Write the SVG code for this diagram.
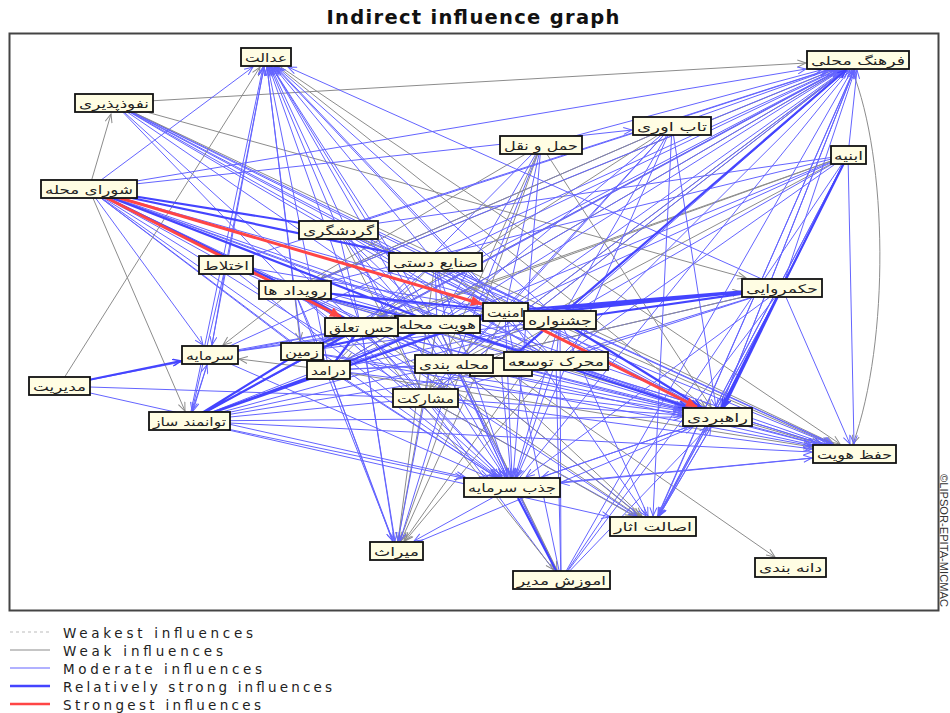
<svg xmlns="http://www.w3.org/2000/svg" width="950" height="713" viewBox="0 0 950 713">
<style>
.w{stroke:#8c8c8c;stroke-width:1;fill:none}
.m{stroke:#6464ff;stroke-width:1;fill:none}
.s{stroke:#4444ff;stroke-width:2.2;fill:none}
.r{stroke:#ff4545;stroke-width:3;fill:none}
.wa{marker-end:url(#aw)}
.ma{marker-end:url(#am)}
.sa{marker-end:url(#as)}
.ra{marker-end:url(#ar)}
.node rect{fill:#fffde3;stroke:#111;stroke-width:1.8}
.node text{font-family:"DejaVu Sans",sans-serif;font-size:12px;fill:#222;text-anchor:middle}
.leg{font-family:"DejaVu Sans",Verdana,sans-serif;font-size:13.5px;fill:#222}
</style>
<defs>
<marker id="aw" markerWidth="10" markerHeight="8" refX="9" refY="4" orient="auto" markerUnits="userSpaceOnUse"><path d="M0.5,0.5 L9,4 L0.5,7.5" fill="none" stroke="#8c8c8c" stroke-width="1"/></marker>
<marker id="am" markerWidth="10" markerHeight="8" refX="9" refY="4" orient="auto" markerUnits="userSpaceOnUse"><path d="M0.5,0.5 L9,4 L0.5,7.5" fill="none" stroke="#6464ff" stroke-width="1"/></marker>
<marker id="as" markerWidth="10" markerHeight="8" refX="9" refY="4" orient="auto" markerUnits="userSpaceOnUse"><path d="M0.5,0.5 L9,4 L0.5,7.5" fill="none" stroke="#4444ff" stroke-width="1.5"/></marker>
<marker id="ar" markerWidth="12" markerHeight="10" refX="11" refY="5" orient="auto" markerUnits="userSpaceOnUse"><path d="M0,0 L11,5 L0,10 z" fill="#ff4545"/></marker>
</defs>
<rect width="950" height="713" fill="#fff"/>
<text x="473" y="24" font-family="DejaVu Sans, Verdana, sans-serif" font-size="19.5" font-weight="bold" fill="#111" text-anchor="middle" textLength="293" lengthAdjust="spacing">Indirect influence graph</text>
<rect x="9.5" y="33.5" width="929" height="577" fill="none" stroke="#444" stroke-width="2"/>

<g id="connectors">
<path class="m" d="M89,189L560,320M89,189L454,364M89,189L556,361M89,189L329,370M89,189L302,351M89,189L425,398M89,189L226,264
M114,103L338,229M114,103L435,262M114,103L505,311M114,103L560,320M114,103L361,327M114,103L437,324M114,103L556,361M114,103L294,290
M59,386L425,398M59,386L361,327
M226,264L361,327M226,264L437,324M226,264L505,311M226,264L294,290
M294,290L560,320M294,290L454,364M294,290L556,361M294,290L329,370M294,290L425,398
M338,229L361,327M338,229L437,324M338,229L505,311M338,229L560,320M338,229L454,364M338,229L556,361
M435,262L361,327M435,262L437,324M435,262L505,311M435,262L560,320M435,262L454,364M435,262L556,361
M672,126L505,311M672,126L560,320M672,126L454,364M672,126L437,324M672,126L294,290
M541,145L505,311M541,145L454,364M541,145L361,327M541,145L437,324
M848,155L560,320M848,155L505,311M848,155L437,324M848,155L556,361M848,155L782,288M848,155L294,290M848,155L338,229
M782,288L454,364M782,288L556,361M782,288L425,398
M302,351L560,320
M329,370L505,311M329,370L560,320M329,370L454,364M329,370L556,361
M189,421L437,324M189,421L560,320M189,421L454,364M189,421L556,361M189,421L425,398
M210,355L361,327M210,355L437,324M210,355L505,311
M561,580L425,398M561,580L454,364M561,580L556,361M561,580L560,320M561,580L505,311M561,580L437,324M561,580L782,288M561,580L848,155
M396,551L361,327M396,551L329,370
M653,526L782,288M653,526L848,155M653,526L454,364M653,526L425,398
M505,311L560,320M437,324L505,311M361,327L437,324M454,364L556,361M425,398L454,364M425,398L361,327M454,364L505,311M556,361L560,320M361,327L454,364M437,324L425,398"/>
<path class="w" d="M338,229L425,398M435,262L329,370M560,320L425,398M672,126L294,290M782,288L454,364M858,60L454,364M541,145L294,290M848,155L454,364"/>

<line class="w wa" x1="114" y1="103" x2="806" y2="63"/>
<line class="w wa" x1="89" y1="189" x2="111" y2="114"/>
<line class="w wa" x1="89" y1="189" x2="185" y2="411"/>
<line class="w wa" x1="59" y1="386" x2="260" y2="67"/>
<path class="w wa" d="M852,70 C888,160 890,340 853,444"/>
<line class="w wa" x1="294" y1="290" x2="223" y2="345"/>
<line class="w wa" x1="329" y1="370" x2="239" y2="359"/>
<line class="w wa" x1="501" y1="367" x2="775" y2="557"/>
<line class="w wa" x1="114" y1="103" x2="746" y2="278"/>
<line class="w wa" x1="114" y1="103" x2="834" y2="444"/>
<line class="w wa" x1="266" y1="57" x2="705" y2="407"/>
<line class="w wa" x1="266" y1="57" x2="840" y2="444"/>
<line class="w wa" x1="541" y1="145" x2="711" y2="407"/>
<line class="w wa" x1="541" y1="145" x2="430" y2="388"/>
<line class="w wa" x1="541" y1="145" x2="400" y2="541"/>
<line class="w wa" x1="672" y1="126" x2="377" y2="317"/>
<line class="w wa" x1="858" y1="60" x2="319" y2="280"/>
<line class="w wa" x1="858" y1="60" x2="380" y2="317"/>
<line class="w wa" x1="858" y1="60" x2="346" y2="360"/>
<line class="w wa" x1="858" y1="60" x2="438" y2="388"/>
<line class="w wa" x1="848" y1="155" x2="324" y2="343"/>
<line class="w wa" x1="848" y1="155" x2="390" y2="317"/>
<line class="w wa" x1="435" y1="262" x2="398" y2="541"/>
<line class="w wa" x1="505" y1="311" x2="401" y2="541"/>
<line class="w wa" x1="560" y1="320" x2="404" y2="541"/>
<line class="w wa" x1="556" y1="361" x2="405" y2="541"/>
<line class="w wa" x1="437" y1="324" x2="398" y2="541"/>
<line class="w wa" x1="361" y1="327" x2="638" y2="516"/>
<line class="w wa" x1="437" y1="324" x2="642" y2="516"/>
<line class="w wa" x1="454" y1="364" x2="640" y2="516"/>
<line class="w wa" x1="425" y1="398" x2="634" y2="516"/>
<line class="w wa" x1="361" y1="327" x2="741" y2="292"/>
<line class="w wa" x1="294" y1="290" x2="820" y2="444"/>
<line class="w wa" x1="329" y1="370" x2="812" y2="447"/>
<line class="w wa" x1="338" y1="229" x2="831" y2="444"/>
<line class="w wa" x1="294" y1="290" x2="300" y2="341"/>
<line class="w wa" x1="437" y1="324" x2="557" y2="570"/>
<line class="w wa" x1="361" y1="327" x2="554" y2="570"/>

<line class="m ma" x1="89" y1="189" x2="253" y2="67"/>
<line class="m ma" x1="226" y1="264" x2="264" y2="67"/>
<line class="m ma" x1="210" y1="355" x2="264" y2="67"/>
<line class="m ma" x1="189" y1="421" x2="263" y2="67"/>
<line class="m ma" x1="294" y1="290" x2="267" y2="67"/>
<line class="m ma" x1="302" y1="351" x2="267" y2="67"/>
<line class="m ma" x1="329" y1="370" x2="268" y2="67"/>
<line class="m ma" x1="361" y1="327" x2="269" y2="67"/>
<line class="m ma" x1="338" y1="229" x2="270" y2="67"/>
<line class="m ma" x1="437" y1="324" x2="272" y2="67"/>
<line class="m ma" x1="435" y1="262" x2="274" y2="67"/>
<line class="m ma" x1="454" y1="364" x2="272" y2="67"/>
<line class="m ma" x1="425" y1="398" x2="271" y2="67"/>
<line class="m ma" x1="505" y1="311" x2="275" y2="67"/>
<line class="m ma" x1="560" y1="320" x2="277" y2="67"/>
<line class="m ma" x1="556" y1="361" x2="276" y2="67"/>
<line class="m ma" x1="782" y1="288" x2="288" y2="67"/>
<line class="m ma" x1="512" y1="487" x2="272" y2="67"/>
<line class="m ma" x1="89" y1="189" x2="806" y2="69"/>
<line class="m ma" x1="672" y1="126" x2="829" y2="70"/>
<line class="m ma" x1="338" y1="229" x2="828" y2="70"/>
<line class="m ma" x1="435" y1="262" x2="837" y2="70"/>
<line class="m ma" x1="294" y1="290" x2="833" y2="70"/>
<line class="m ma" x1="361" y1="327" x2="839" y2="70"/>
<line class="m ma" x1="437" y1="324" x2="842" y2="70"/>
<line class="m ma" x1="505" y1="311" x2="844" y2="70"/>
<line class="m ma" x1="560" y1="320" x2="846" y2="70"/>
<line class="m ma" x1="454" y1="364" x2="845" y2="70"/>
<line class="m ma" x1="556" y1="361" x2="848" y2="70"/>
<line class="m ma" x1="425" y1="398" x2="845" y2="70"/>
<line class="m ma" x1="302" y1="351" x2="839" y2="70"/>
<line class="m ma" x1="329" y1="370" x2="841" y2="70"/>
<line class="m ma" x1="189" y1="421" x2="840" y2="70"/>
<line class="m ma" x1="717" y1="417" x2="854" y2="70"/>
<line class="m ma" x1="782" y1="288" x2="855" y2="70"/>
<line class="m ma" x1="512" y1="487" x2="850" y2="70"/>
<line class="m ma" x1="653" y1="526" x2="854" y2="70"/>
<line class="m ma" x1="561" y1="580" x2="852" y2="70"/>
<line class="m ma" x1="226" y1="264" x2="827" y2="70"/>
<line class="m ma" x1="210" y1="355" x2="836" y2="70"/>
<line class="m ma" x1="848" y1="155" x2="857" y2="70"/>
<line class="m ma" x1="541" y1="145" x2="821" y2="70"/>
<line class="m ma" x1="89" y1="189" x2="632" y2="130"/>
<line class="m ma" x1="848" y1="155" x2="854" y2="444"/>
<line class="m ma" x1="782" y1="288" x2="850" y2="444"/>
<line class="m ma" x1="717" y1="417" x2="817" y2="444"/>
<line class="m ma" x1="560" y1="320" x2="832" y2="444"/>
<line class="m ma" x1="505" y1="311" x2="830" y2="444"/>
<line class="m ma" x1="437" y1="324" x2="822" y2="444"/>
<line class="m ma" x1="361" y1="327" x2="816" y2="444"/>
<line class="m ma" x1="454" y1="364" x2="812" y2="445"/>
<line class="m ma" x1="556" y1="361" x2="822" y2="444"/>
<line class="m ma" x1="425" y1="398" x2="812" y2="449"/>
<line class="m ma" x1="189" y1="421" x2="812" y2="452"/>
<line class="m ma" x1="435" y1="262" x2="833" y2="444"/>
<line class="m ma" x1="89" y1="189" x2="826" y2="444"/>
<line class="m ma" x1="512" y1="487" x2="812" y2="458"/>
<line class="m ma" x1="302" y1="351" x2="812" y2="446"/>
<line class="m ma" x1="361" y1="327" x2="502" y2="477"/>
<line class="m ma" x1="437" y1="324" x2="507" y2="477"/>
<line class="m ma" x1="505" y1="311" x2="512" y2="477"/>
<line class="m ma" x1="560" y1="320" x2="515" y2="477"/>
<line class="m ma" x1="454" y1="364" x2="507" y2="477"/>
<line class="m ma" x1="556" y1="361" x2="516" y2="477"/>
<line class="m ma" x1="425" y1="398" x2="502" y2="477"/>
<line class="m ma" x1="329" y1="370" x2="496" y2="477"/>
<line class="m ma" x1="302" y1="351" x2="496" y2="477"/>
<line class="m ma" x1="189" y1="421" x2="463" y2="478"/>
<line class="m ma" x1="294" y1="290" x2="500" y2="477"/>
<line class="m ma" x1="338" y1="229" x2="505" y2="477"/>
<line class="m ma" x1="435" y1="262" x2="508" y2="477"/>
<line class="m ma" x1="541" y1="145" x2="513" y2="477"/>
<line class="m ma" x1="672" y1="126" x2="517" y2="477"/>
<line class="m ma" x1="782" y1="288" x2="526" y2="477"/>
<line class="m ma" x1="717" y1="417" x2="542" y2="477"/>
<line class="m ma" x1="854" y1="454" x2="561" y2="483"/>
<line class="m ma" x1="89" y1="189" x2="497" y2="477"/>
<line class="m ma" x1="226" y1="264" x2="498" y2="477"/>
<line class="m ma" x1="210" y1="355" x2="488" y2="477"/>
<line class="m ma" x1="59" y1="386" x2="465" y2="477"/>
<line class="m ma" x1="501" y1="367" x2="511" y2="477"/>
<line class="m ma" x1="361" y1="327" x2="682" y2="408"/>
<line class="m ma" x1="556" y1="361" x2="689" y2="407"/>
<line class="m ma" x1="454" y1="364" x2="682" y2="410"/>
<line class="m ma" x1="425" y1="398" x2="682" y2="415"/>
<line class="m ma" x1="294" y1="290" x2="684" y2="407"/>
<line class="m ma" x1="338" y1="229" x2="697" y2="407"/>
<line class="m ma" x1="435" y1="262" x2="699" y2="407"/>
<line class="m ma" x1="89" y1="189" x2="690" y2="407"/>
<line class="m ma" x1="114" y1="103" x2="698" y2="407"/>
<line class="m ma" x1="329" y1="370" x2="682" y2="413"/>
<line class="m ma" x1="302" y1="351" x2="682" y2="411"/>
<line class="m ma" x1="189" y1="421" x2="682" y2="417"/>
<line class="m ma" x1="858" y1="60" x2="721" y2="407"/>
<line class="m ma" x1="672" y1="126" x2="716" y2="407"/>
<line class="m ma" x1="653" y1="526" x2="711" y2="427"/>
<line class="m ma" x1="561" y1="580" x2="708" y2="427"/>
<line class="m ma" x1="512" y1="487" x2="688" y2="427"/>
<line class="m ma" x1="396" y1="551" x2="693" y2="427"/>
<line class="m ma" x1="501" y1="367" x2="682" y2="409"/>
<line class="m ma" x1="505" y1="311" x2="646" y2="516"/>
<line class="m ma" x1="560" y1="320" x2="648" y2="516"/>
<line class="m ma" x1="717" y1="417" x2="659" y2="516"/>
<line class="m ma" x1="782" y1="288" x2="659" y2="516"/>
<line class="m ma" x1="848" y1="155" x2="658" y2="516"/>
<line class="m ma" x1="858" y1="60" x2="658" y2="516"/>
<line class="m ma" x1="672" y1="126" x2="653" y2="516"/>
<line class="m ma" x1="294" y1="290" x2="637" y2="516"/>
<line class="m ma" x1="189" y1="421" x2="610" y2="517"/>
<line class="m ma" x1="454" y1="364" x2="400" y2="541"/>
<line class="m ma" x1="361" y1="327" x2="395" y2="541"/>
<line class="m ma" x1="425" y1="398" x2="398" y2="541"/>
<line class="m ma" x1="512" y1="487" x2="414" y2="541"/>
<line class="m ma" x1="294" y1="290" x2="393" y2="541"/>
<line class="m ma" x1="329" y1="370" x2="393" y2="541"/>
<line class="m ma" x1="226" y1="264" x2="212" y2="345"/>
<line class="m ma" x1="89" y1="189" x2="203" y2="345"/>
<line class="m ma" x1="189" y1="421" x2="207" y2="365"/>
<line class="m ma" x1="226" y1="264" x2="192" y2="411"/>
<line class="m ma" x1="210" y1="355" x2="193" y2="411"/>

<path class="s" d="M89,189L338,229M89,189L435,262M89,189L294,290M89,189L437,324
M294,290L361,327M294,290L437,324M294,290L505,311
M782,288L505,311M782,288L560,320M782,288L437,324M782,288L361,327
M302,351L361,327M302,351L437,324M302,351L505,311
M329,370L361,327M329,370L437,324
M189,421L302,351M189,421L329,370M189,421L361,327M189,421L505,311
M561,580L518,498"/>
<line class="s sa" x1="59" y1="386" x2="181" y2="361"/>
<line class="s sa" x1="501" y1="367" x2="846" y2="70"/>
<line class="s sa" x1="848" y1="155" x2="722" y2="407"/>
<line class="s sa" x1="782" y1="288" x2="724" y2="407"/>
<line class="s sa" x1="560" y1="320" x2="701" y2="407"/>
<line class="s sa" x1="437" y1="324" x2="687" y2="407"/>

<line class="r ra" x1="89" y1="189" x2="482" y2="304"/>
<line class="r ra" x1="89" y1="189" x2="341" y2="317"/>
<line class="r ra" x1="505" y1="311" x2="697" y2="407"/>
</g>

<g id="n-adalat" class="node"><rect x="241" y="48" width="50" height="18"/><text x="266" y="61.5" textLength="42" lengthAdjust="spacingAndGlyphs">عدالت</text></g>
<g id="n-nofouzpaziri" class="node"><rect x="75" y="94" width="78" height="18"/><text x="114" y="107.5" textLength="70" lengthAdjust="spacingAndGlyphs">نفوذپذیری</text></g>
<g id="n-farhang" class="node"><rect x="807" y="51" width="102" height="18"/><text x="858" y="64.5" textLength="94" lengthAdjust="spacingAndGlyphs">فرهنگ محلی</text></g>
<g id="n-tabavari" class="node"><rect x="633" y="117" width="78" height="18"/><text x="672" y="130.5" textLength="70" lengthAdjust="spacingAndGlyphs">تاب اوری</text></g>
<g id="n-haml" class="node"><rect x="500" y="136" width="82" height="18"/><text x="541" y="149.5" textLength="74" lengthAdjust="spacingAndGlyphs">حمل و نقل</text></g>
<g id="n-abnie" class="node"><rect x="831" y="146" width="35" height="18"/><text x="848.5" y="159.5" textLength="29" lengthAdjust="spacingAndGlyphs">ابنیه</text></g>
<g id="n-shora" class="node"><rect x="41" y="180" width="96" height="18"/><text x="89" y="193.5" textLength="88" lengthAdjust="spacingAndGlyphs">شورای محله</text></g>
<g id="n-gardeshgari" class="node"><rect x="299" y="221" width="79" height="18"/><text x="338.5" y="234.5" textLength="71" lengthAdjust="spacingAndGlyphs">گردشگری</text></g>
<g id="n-sanaye" class="node"><rect x="389" y="253" width="93" height="18"/><text x="435.5" y="266.5" textLength="85" lengthAdjust="spacingAndGlyphs">صنایع دستی</text></g>
<g id="n-ekhtelat" class="node"><rect x="199" y="256" width="54" height="18"/><text x="226" y="269.5" textLength="46" lengthAdjust="spacingAndGlyphs">اختلاط</text></g>
<g id="n-rooydad" class="node"><rect x="259" y="281" width="72" height="18"/><text x="295" y="294.5" textLength="64" lengthAdjust="spacingAndGlyphs">رویداد ها</text></g>
<g id="n-hokmravaei" class="node"><rect x="742" y="279" width="80" height="18"/><text x="782" y="292.5" textLength="72" lengthAdjust="spacingAndGlyphs">حکمروایی</text></g>
<g id="n-hoviat-mahale" class="node"><rect x="395" y="316" width="85" height="17"/><text x="437.5" y="329" textLength="77" lengthAdjust="spacingAndGlyphs">هویت محله</text></g>
<g id="n-hes-taalogh" class="node"><rect x="325" y="318" width="73" height="18"/><text x="361.5" y="331.5" textLength="65" lengthAdjust="spacingAndGlyphs">حس تعلق</text></g>
<g id="n-amniat" class="node"><rect x="483" y="303" width="45" height="18"/><text x="505.5" y="316.5" textLength="37" lengthAdjust="spacingAndGlyphs">امنیت</text></g>
<g id="n-jashnvare" class="node"><rect x="524" y="311" width="72" height="18"/><text x="560" y="324.5" textLength="64" lengthAdjust="spacingAndGlyphs">جشنواره</text></g>
<g id="n-sarmaye" class="node"><rect x="182" y="346" width="56" height="18"/><text x="210" y="359.5" textLength="48" lengthAdjust="spacingAndGlyphs">سرمایه</text></g>
<g id="n-zamin" class="node"><rect x="281" y="343" width="42" height="17"/><text x="302" y="356" textLength="34" lengthAdjust="spacingAndGlyphs">زمین</text></g>
<g id="n-daramad" class="node"><rect x="307" y="361" width="43" height="18"/><text x="328.5" y="374.5" textLength="35" lengthAdjust="spacingAndGlyphs">درامد</text></g>
<g id="n-modiriat" class="node"><rect x="29" y="377" width="61" height="18"/><text x="59.5" y="390.5" textLength="53" lengthAdjust="spacingAndGlyphs">مدیریت</text></g>
<g id="n-hidden" class="node"><rect x="470" y="358" width="62" height="18"/></g>
<g id="n-mahale-bandi" class="node"><rect x="415" y="355" width="78" height="18"/><text x="454" y="368.5" textLength="70" lengthAdjust="spacingAndGlyphs">محله بندی</text></g>
<g id="n-moharek" class="node"><rect x="504" y="352" width="104" height="18"/><text x="556" y="365.5" textLength="96" lengthAdjust="spacingAndGlyphs">محرک توسعه</text></g>
<g id="n-mosharekat" class="node"><rect x="393" y="389" width="65" height="18"/><text x="425.5" y="402.5" textLength="57" lengthAdjust="spacingAndGlyphs">مشارکت</text></g>
<g id="n-tavanmand" class="node"><rect x="149" y="412" width="81" height="18"/><text x="189.5" y="425.5" textLength="73" lengthAdjust="spacingAndGlyphs">توانمند ساز</text></g>
<g id="n-rahbordi" class="node"><rect x="683" y="408" width="69" height="18"/><text x="717.5" y="421.5" textLength="61" lengthAdjust="spacingAndGlyphs">راهبردی</text></g>
<g id="n-hefz" class="node"><rect x="813" y="445" width="83" height="18"/><text x="854.5" y="458.5" textLength="75" lengthAdjust="spacingAndGlyphs">حفظ هویت</text></g>
<g id="n-jazb" class="node"><rect x="464" y="478" width="96" height="19"/><text x="512" y="492" textLength="88" lengthAdjust="spacingAndGlyphs">جذب سرمایه</text></g>
<g id="n-esalat" class="node"><rect x="610" y="517" width="86" height="19"/><text x="653" y="531" textLength="78" lengthAdjust="spacingAndGlyphs">اصالت اثار</text></g>
<g id="n-miras" class="node"><rect x="370" y="542" width="53" height="18"/><text x="396.5" y="555.5" textLength="45" lengthAdjust="spacingAndGlyphs">میراث</text></g>
<g id="n-amoozesh" class="node"><rect x="513" y="571" width="97" height="18"/><text x="561.5" y="584.5" textLength="89" lengthAdjust="spacingAndGlyphs">اموزش مدیر</text></g>
<g id="n-daneh" class="node"><rect x="755" y="558" width="71" height="19"/><text x="790.5" y="572" textLength="63" lengthAdjust="spacingAndGlyphs">دانه بندی</text></g>

<text transform="translate(940,474) rotate(90)" font-family="Liberation Sans, Arial, sans-serif" font-size="11" fill="#333" textLength="133" lengthAdjust="spacingAndGlyphs">©LIPSOR-EPITA-MICMAC</text>

<g id="legend">
<line x1="10" y1="632" x2="50" y2="632" stroke="#bbb" stroke-width="1" stroke-dasharray="3,3"/>
<line x1="10" y1="650" x2="50" y2="650" stroke="#8c8c8c" stroke-width="1.2"/>
<line x1="10" y1="668" x2="50" y2="668" stroke="#6464ff" stroke-width="1.2"/>
<line x1="10" y1="686" x2="50" y2="686" stroke="#4444ff" stroke-width="2.5"/>
<line x1="10" y1="704" x2="50" y2="704" stroke="#ff4545" stroke-width="2.5"/>
<text class="leg" x="63" y="638" textLength="190" lengthAdjust="spacing">Weakest influences</text>
<text class="leg" x="63" y="656" textLength="160" lengthAdjust="spacing">Weak influences</text>
<text class="leg" x="63" y="674" textLength="199" lengthAdjust="spacing">Moderate influences</text>
<text class="leg" x="63" y="692" textLength="269" lengthAdjust="spacing">Relatively strong influences</text>
<text class="leg" x="63" y="710" textLength="198" lengthAdjust="spacing">Strongest influences</text>
</g>
</svg>
